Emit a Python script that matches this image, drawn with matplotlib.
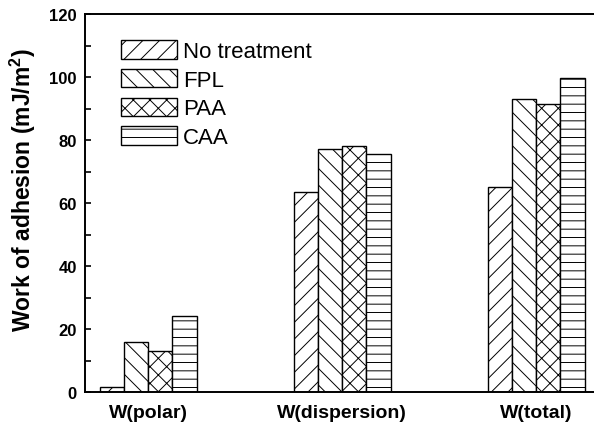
import numpy as np
import matplotlib.pyplot as plt
from matplotlib.ticker import MultipleLocator

# work of adhesion components for each surface treatment (mJ/m^2)
groups = ["W(polar)", "W(dispersion)", "W(total)"]
treatments = ["No treatment", "FPL", "PAA", "CAA"]
no_treatment = [1.5, 63.4, 65.0]
fpl = [16.0, 77.1, 93.0]
paa = [13.1, 78.0, 91.3]
caa = [24.0, 75.6, 99.8]

plt.rcParams['font.family'] = ['Liberation Sans', 'DejaVu Sans']
plt.rcParams['mathtext.default'] = 'regular'
plt.rcParams['hatch.linewidth'] = 0.7

fig = plt.figure(figsize=(5.94, 4.27), dpi=100)
ax = fig.add_axes([85 / 594, 34 / 427, 515 / 594, 378 / 427])

x = np.arange(len(groups))
w = 0.125
series = [no_treatment, fpl, paa, caa]
hatches = ['//', '\\\\', 'xx', '--']
for i, (vals, name, h) in enumerate(zip(series, treatments, hatches)):
    ax.bar(x + (i - 1.5) * w, vals, w, color='white', edgecolor='black',
           linewidth=1.0, hatch=h, label=name)

ax.set_xlim(-0.325, -0.325 + 515 / 194)
ax.set_ylim(0, 120)
ax.yaxis.set_major_locator(MultipleLocator(20))
ax.yaxis.set_minor_locator(MultipleLocator(10))
ax.tick_params(axis='y', which='both', direction='in', length=4, width=1.2,
               labelsize=12, pad=6)
ax.tick_params(axis='x', length=0, labelsize=14, pad=9)
ax.set_xticks(x)
ax.set_xticklabels(groups, fontweight='bold')
for lab in ax.get_yticklabels():
    lab.set_fontweight('bold')
for s in ax.spines.values():
    s.set_linewidth(1.4)

ax.set_ylabel("Work of adhesion (mJ/m$^2$)", fontsize=16.5, fontweight='bold')
ax.yaxis.set_label_coords(-0.092, 0.537)

ax.legend(loc='upper left', bbox_to_anchor=(0.07, 0.93), frameon=False,
          fontsize=16, handlelength=2.5, handleheight=0.9, labelspacing=0.3,
          handletextpad=0.3, borderpad=0, borderaxespad=0)

fig.savefig('out.png', dpi=100)
